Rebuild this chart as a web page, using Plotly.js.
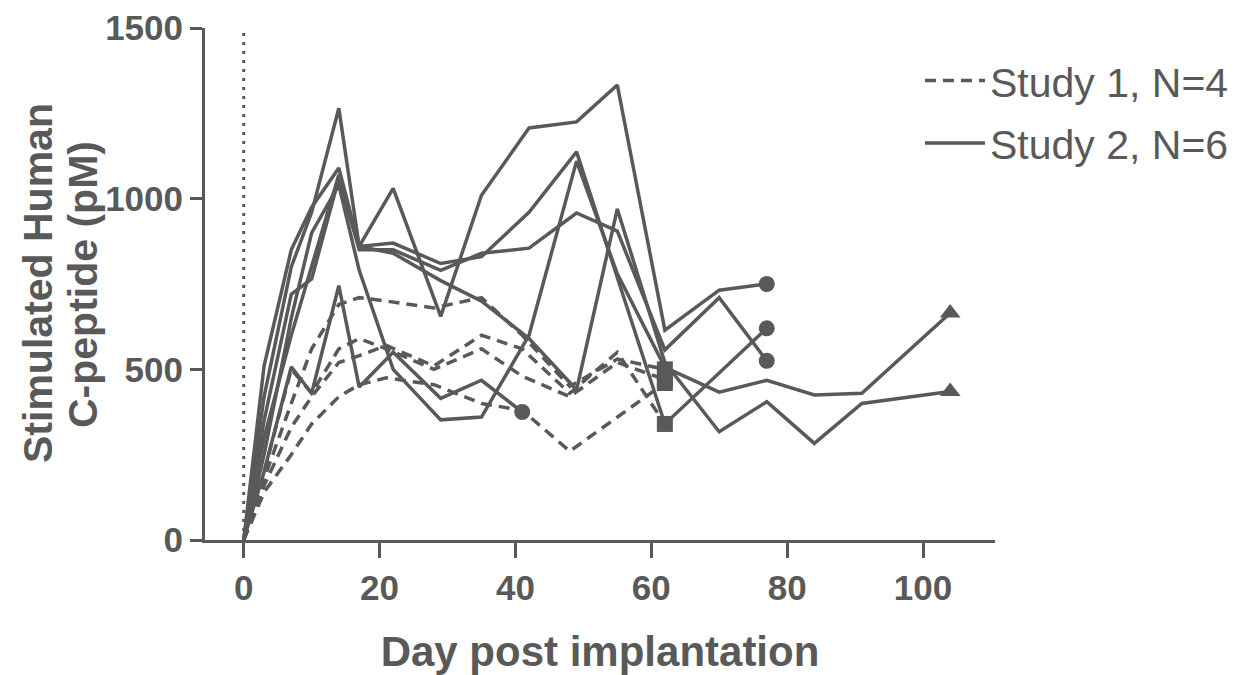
<!DOCTYPE html>
<html>
<head>
<meta charset="utf-8">
<script src="https://cdn.plot.ly/plotly-3.0.1.min.js"></script>
<style>
html,body{margin:0;padding:0;background:#fff;}
#chart{width:1244px;height:675px;}
</style>
</head>
<body>
<div id="chart"></div>
<script>
// ---------- Data ----------
// Study 1 (dashed), N=4
var s1aDays = [0, 3, 7, 10, 14, 17, 21, 28, 35, 41, 48, 62];
var s1aVals = [0, 140, 250, 340, 420, 455, 475, 455, 400, 380, 260, 460];
var s1bDays = [0, 3, 7, 10, 14, 17, 21, 28, 35, 41, 48, 55, 62];
var s1bVals = [0, 160, 330, 420, 520, 540, 570, 510, 600, 560, 430, 550, 340];
var s1cDays = [0, 3, 7, 10, 14, 17, 21, 28, 35, 41, 48, 55, 62];
var s1cVals = [0, 180, 400, 560, 690, 710, 700, 680, 710, 600, 450, 530, 500];
var s1dDays = [0, 3, 7, 10, 14, 17, 21, 28, 35, 41, 48, 55, 62];
var s1dVals = [0, 200, 500, 430, 560, 590, 560, 500, 560, 480, 420, 520, 470];

// Study 2 (solid), N=6
var s2aDays = [0, 3, 7, 10, 14, 17, 22, 29, 35, 42, 49, 55, 62, 70, 77];
var s2aVals = [0, 510, 850, 975, 1090, 860, 1030, 655, 1010, 1207, 1225, 1333, 615, 732, 750];
var s2bDays = [0, 3, 7, 10, 14, 17, 22, 29, 35, 42, 49, 62, 77];
var s2bVals = [0, 420, 800, 960, 1265, 860, 870, 810, 830, 960, 1137, 340, 620];
var s2cDays = [0, 3, 7, 10, 14, 17, 22, 29, 35, 42, 49, 55, 62, 70, 77];
var s2cVals = [0, 350, 720, 765, 1060, 850, 850, 790, 840, 855, 958, 905, 557, 710, 525];
var s2dDays = [0, 3, 7, 10, 14, 17, 22, 29, 35, 42, 49, 55, 62, 70, 77, 84, 91, 104];
var s2dVals = [0, 250, 650, 900, 1040, 790, 500, 352, 360, 600, 1110, 780, 506, 433, 468, 425, 430, 665];
var s2eDays = [0, 3, 7, 10, 14, 17, 22, 29, 35, 42, 49, 55, 62, 70, 77, 84, 91, 104];
var s2eVals = [0, 300, 600, 800, 1070, 860, 840, 760, 700, 590, 440, 970, 520, 317, 405, 283, 400, 435];
var s2fDays = [0, 3, 7, 10, 14, 17, 22, 29, 35, 41];
var s2fVals = [0, 200, 507, 430, 745, 448, 550, 415, 468, 375];

var xTicks = [0, 20, 40, 60, 80, 100];
var yTicks = [0, 500, 1000, 1500];
var legendNames = ["Study 1, N=4", "Study 2, N=6"];
var yTitleLines = ["Stimulated Human", "C-peptide (pM)"];

// ---------- Styling ----------
var C = "#595959";
var LW = 3.5;
var FONT = "Liberation Sans, Arial, sans-serif";
var DASH = "11px,7px";

function lineTrace(days, vals, dashed, endSymbol) {
  var last = days.length - 1;
  var syms = days.map(function (d, i) { return i === last ? endSymbol : "circle"; });
  var sizes = days.map(function (d, i) { return i === last ? (endSymbol === "triangle-up" ? 18 : 16) : 0; });
  return {
    x: days, y: vals, type: "scatter", mode: "lines+markers",
    line: {color: C, width: LW, dash: dashed ? DASH : "solid"},
    marker: {color: C, size: sizes, symbol: syms, opacity: 1, line: {width: 0, color: C}},
    showlegend: false, hoverinfo: "x+y"
  };
}
function legendTrace(name, dashed, group) {
  return {
    x: [null], y: [null], type: "scatter", mode: "lines", name: name,
    line: {color: C, width: LW, dash: dashed ? DASH : "solid"},
    showlegend: true, legendgroup: group
  };
}

var traces = [
  lineTrace(s1aDays, s1aVals, true, "square"),
  lineTrace(s1bDays, s1bVals, true, "square"),
  lineTrace(s1cDays, s1cVals, true, "square"),
  lineTrace(s1dDays, s1dVals, true, "square"),
  lineTrace(s2aDays, s2aVals, false, "circle"),
  lineTrace(s2bDays, s2bVals, false, "circle"),
  lineTrace(s2cDays, s2cVals, false, "circle"),
  lineTrace(s2dDays, s2dVals, false, "triangle-up"),
  lineTrace(s2eDays, s2eVals, false, "triangle-up"),
  lineTrace(s2fDays, s2fVals, false, "circle"),
  legendTrace(legendNames[0], true, "g1"),
  legendTrace(legendNames[1], false, "g2")
];

var yTitleFont = {family: FONT, size: 41, color: C, weight: "bold"};

var layout = {
  width: 1244, height: 675,
  margin: {l: 205, r: 249, t: 28, b: 135, autoexpand: false},
  paper_bgcolor: "#fff", plot_bgcolor: "#fff",
  font: {family: FONT, color: C},
  showlegend: true,
  legend: {
    x: 0.905, y: 0.962, xanchor: "left", yanchor: "top",
    font: {family: FONT, size: 41, color: C},
    tracegroupgap: 6, traceorder: "grouped",
    bgcolor: "rgba(0,0,0,0)", itemwidth: 60
  },
  xaxis: {
    range: [-5.7, 110.6], tickvals: xTicks, ticktext: xTicks.map(String),
    showgrid: false, zeroline: false, showline: true, linecolor: C, linewidth: 3,
    ticks: "outside", ticklen: 15, tickwidth: 3, tickcolor: C,
    tickfont: {family: FONT, size: 35, color: C, weight: "bold"},
    title: {text: "Day post implantation", font: {family: FONT, size: 42, color: C, weight: "bold"}, standoff: 32}
  },
  yaxis: {
    range: [0, 1500], tickvals: yTicks, ticktext: yTicks.map(String),
    showgrid: false, zeroline: false, showline: true, linecolor: C, linewidth: 3,
    ticks: "outside", ticklen: 12, tickwidth: 3, tickcolor: C,
    tickfont: {family: FONT, size: 35, color: C, weight: "bold"}
  },
  annotations: [{
    xref: "paper", yref: "paper", x: (38 - 205) / 790, y: (540 - 283) / 512,
    text: yTitleLines[0], textangle: -90, showarrow: false, font: yTitleFont,
    xanchor: "center", yanchor: "middle"
  }, {
    xref: "paper", yref: "paper", x: (83 - 205) / 790, y: (540 - 285) / 512,
    text: yTitleLines[1], textangle: -90, showarrow: false, font: yTitleFont,
    xanchor: "center", yanchor: "middle"
  }],
  shapes: [{
    type: "line", xref: "x", yref: "y", x0: 0, x1: 0, y0: 0, y1: 1500,
    line: {color: C, width: 3, dash: "3px,6px"}
  }]
};

Plotly.newPlot("chart", traces, layout, {displayModeBar: false, staticPlot: true});
</script>
</body>
</html>
